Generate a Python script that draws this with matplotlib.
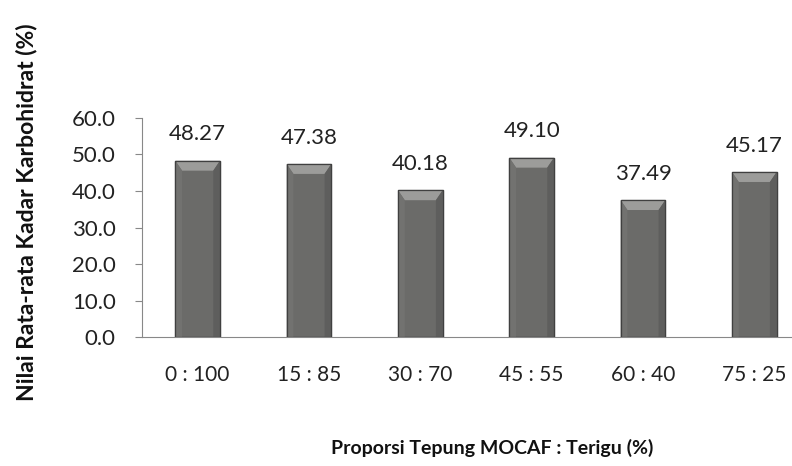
import matplotlib.pyplot as plt
from matplotlib.patches import Polygon

plt.rcParams['font.family'] = ['Lato', 'DejaVu Sans']

proporsi = ["0 : 100", "15 : 85", "30 : 70", "45 : 55", "60 : 40", "75 : 25"]
karbohidrat = [48.27, 47.38, 40.18, 49.10, 37.49, 45.17]
yticks = [0, 10, 20, 30, 40, 50, 60]

fig = plt.figure(figsize=(7.92, 4.66), dpi=100)
ax = fig.add_axes([0.1793, 0.2768, 0.8434, 0.47])

x = list(range(len(proporsi)))
width = 0.40
ax.bar(x, karbohidrat, width=width, color="#6b6b69",
       edgecolor="#404040", linewidth=0.9, zorder=2)

# bevel on each bar: lighter top face and shaded sides
bx = 0.06
by = 2.7
for xi, h in zip(x, karbohidrat):
    l, r = xi - width / 2, xi + width / 2
    top = Polygon([(l, h), (r, h), (r - bx, h - by), (l + bx, h - by)],
                  closed=True, facecolor="#9c9c9a", edgecolor="none", zorder=3)
    left = Polygon([(l, h), (l + bx, h - by), (l + bx, 0), (l, 0)],
                   closed=True, facecolor="#727270", edgecolor="none", zorder=3)
    right = Polygon([(r, h), (r - bx, h - by), (r - bx, 0), (r, 0)],
                    closed=True, facecolor="#5e5e5d", edgecolor="none", zorder=3)
    for p in (top, left, right):
        ax.add_patch(p)
    ax.plot([l, r, r, l, l], [0, 0, h, h, 0], color="#404040", lw=0.9, zorder=4)
    ax.annotate(f"{h:.2f}", (xi, h), xytext=(0, 19), textcoords="offset points",
                ha="center", va="center", fontsize=16, color="#222222")

ax.set_xlim(-0.5, len(proporsi) - 0.5)
ax.set_ylim(0, 60)
ax.set_yticks(yticks)
ax.set_yticklabels([f"{v:.1f}" for v in yticks], fontsize=16, color="#222222")
ax.set_xticks(x)
ax.set_xticklabels(proporsi, fontsize=15, color="#222222")
ax.tick_params(axis="x", length=0, pad=20)
ax.tick_params(axis="y", length=5, color="#888888", direction="out", pad=14)

for side in ("top", "right"):
    ax.spines[side].set_visible(False)
ax.spines["left"].set_color("#888888")
ax.spines["bottom"].set_color("#888888")

fig.text(0.033, 0.545, "Nilai Rata-rata Kadar Karbohidrat (%)", rotation=90,
         ha="center", va="center", fontsize=16.5, fontweight="bold", color="#111111")
fig.text(0.621, 0.039, "Proporsi Tepung MOCAF : Terigu (%)",
         ha="center", va="center", fontsize=14, fontweight="bold", color="#111111")

fig.savefig("out.png", dpi=100)
